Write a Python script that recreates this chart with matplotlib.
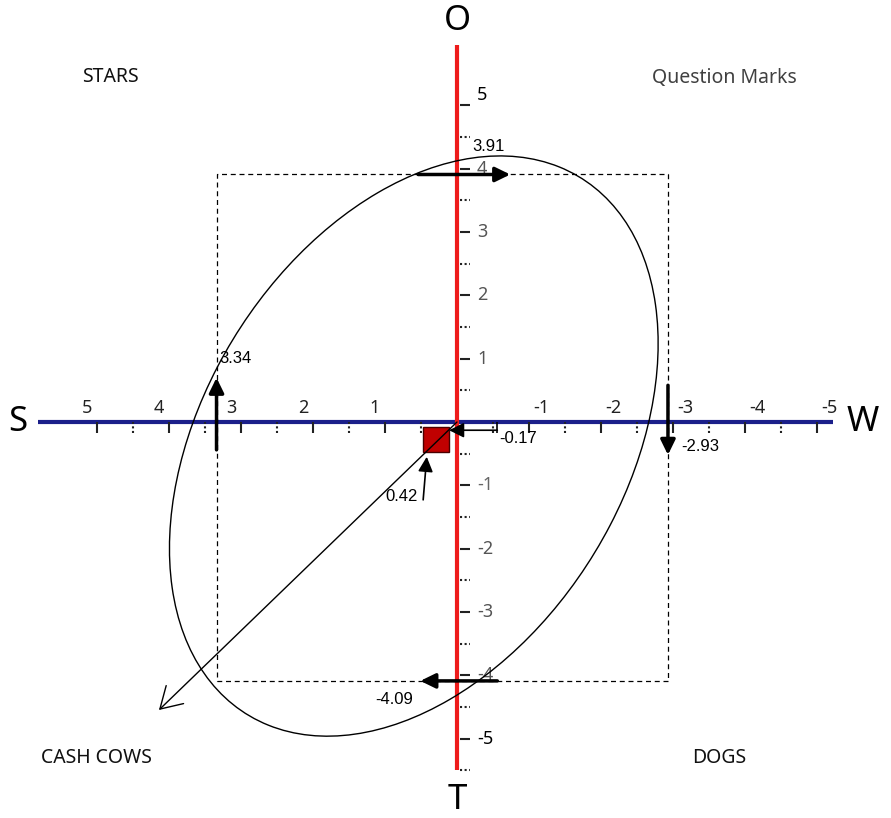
"""
SWOT position chart (S-W horizontal, O-T vertical) with the
strategy quadrants and the score ellipse.
"""

import matplotlib
matplotlib.use("Agg")
from matplotlib import pyplot as plt, patches

# scores
strength = 3.34
weakness = -2.93
opportunity = 3.91
threat = -4.09
sw_score = 0.42
ot_score = -0.17

major_ticks = [-5, -4, -3, -2, -1, 1, 2, 3, 4, 5]
minor_ticks = [-4.5, -3.5, -2.5, -1.5, -0.5, 0.5, 1.5, 2.5, 3.5, 4.5]
y_minor_ticks = minor_ticks + [-5.5]
y_label_colors = {5: "black", 4: "#555555", 3: "#555555", 2: "#555555", 1: "#555555",
                  -1: "#666666", -2: "#555555", -3: "#555555", -4: "#555555", -5: "black"}

quadrant_names = ["STARS", "Question Marks", "CASH COWS", "DOGS"]
axis_names = ["S", "W", "O", "T"]

# ellipse: centre, full width, full height, angle
ellipse_centre = (0.6, -0.38)
ellipse_size = (9.7, 6.0)
ellipse_angle = 114.6

# end of the strategy direction arrow
direction_end = (4.14, -4.55)

# pixel layout of the original drawing
PX_W, PX_H = 891, 818
X0, KX = 457, 72.0
Y0, KY = 422, 63.3


def px(p):
    return p / (100 / 72)   # pixels -> points at dpi 100


def plot_swot():
    plt.rcParams['font.family'] = ['Noto Sans', 'DejaVu Sans']
    fig = plt.figure(figsize=(PX_W / 100, PX_H / 100), dpi=100)
    ax = fig.add_axes([0, 0, 1, 1])
    ax.set_xlim(X0 / KX, (X0 - PX_W) / KX)
    ax.set_ylim((Y0 - PX_H) / KY, Y0 / KY)
    ax.axis('off')

    # main axes
    ax.plot([5.82, -5.22], [0, 0], color='#1b1f8a', lw=3, solid_capstyle='butt', zorder=2)
    ax.plot([0, 0], [5.96, -5.5], color='#ee1c1c', lw=3, solid_capstyle='butt', zorder=3)

    # ticks on the S-W axis (below the line) and on the O-T axis (right of it)
    tick_dx = 11 / KY
    ax.vlines(major_ticks, -tick_dx, 0, color='#222222', lw=1.5, zorder=2)
    ax.vlines(minor_ticks, -tick_dx, 0, color='#222222', lw=1.5, linestyles=(0, (1, 1.2)), zorder=2)
    ax.hlines(major_ticks, -3 / KX, -13 / KX, color='#222222', lw=1.5, zorder=2)
    ax.hlines(y_minor_ticks, -3 / KX, -13 / KX, color='#222222', lw=1.5,
              linestyles=(0, (1, 1.2)), zorder=2)

    for t in major_ticks:
        dx = -10 if t > 0 else 12
        ax.annotate(str(t), (t, 0), xytext=(px(dx), px(14)), textcoords='offset points',
                    ha='center', va='center', fontsize=13, color='#222222')
        dy = 10 if t == 5 else 0
        ax.annotate(str(t), (0, t), xytext=(px(20), px(dy)), textcoords='offset points',
                    ha='left', va='center', fontsize=13, color=y_label_colors[t])

    # S / W / O / T
    big = dict(fontsize=25, ha='center', va='center', color='black')
    ax.text(6.1, 0, axis_names[0], **big)
    ax.text(-5.63, 0, axis_names[1], **big)
    ax.text(0, 6.33, axis_names[2], **big)
    ax.text(0, -5.97, axis_names[3], **big)

    # quadrant names
    q = dict(fontsize=14, ha='left', va='center', transform=ax.transAxes)
    ax.text(82 / PX_W, 1 - 77 / PX_H, quadrant_names[0], color='#111111', **q)
    ax.text(652 / PX_W, 1 - 78 / PX_H, quadrant_names[1], color='#404040', **q)
    ax.text(41 / PX_W, 1 - 758 / PX_H, quadrant_names[2], color='#111111', **q)
    ax.text(692 / PX_W, 1 - 758 / PX_H, quadrant_names[3], color='#111111', **q)

    # dashed box from the four scores
    ax.add_patch(patches.Rectangle((weakness, threat), strength - weakness, opportunity - threat,
                                   fill=False, ec='black', lw=0.9, ls=(0, (4, 3)), zorder=4))

    # ellipse
    ax.add_patch(patches.Ellipse(ellipse_centre, ellipse_size[0], ellipse_size[1],
                                 angle=ellipse_angle, fill=False, ec='black', lw=1.0, zorder=4))

    # thick arrows on each score
    thick = dict(arrowstyle='-|>,head_length=0.45,head_width=0.22', lw=2.5, color='black',
                 mutation_scale=20, shrinkA=0, shrinkB=0)
    ax.annotate('', xy=(-0.74, opportunity), xytext=(0.54, opportunity), arrowprops=thick, zorder=6)
    ax.annotate('', xy=(0.51, threat), xytext=(-0.56, threat), arrowprops=thick, zorder=6)
    ax.annotate('', xy=(strength, 0.7), xytext=(strength, -0.44), arrowprops=thick, zorder=6)
    ax.annotate('', xy=(weakness, -0.52), xytext=(weakness, 0.58), arrowprops=thick, zorder=6)

    # position square and the two small arrows
    ax.add_patch(patches.Rectangle((0.11, -0.47), 0.36, 0.39, fc='#c00000', ec='#4a0000',
                                   lw=1.0, zorder=5))
    thin = dict(arrowstyle='-|>,head_length=0.5,head_width=0.25', lw=1.2, color='black',
                mutation_scale=18, shrinkA=0, shrinkB=0)
    ax.annotate('', xy=(0.11, -0.13), xytext=(-0.56, -0.13), arrowprops=thin, zorder=6)
    ax.vlines([-0.56], -tick_dx, 0, color='black', lw=1.2, zorder=6)
    ax.annotate('', xy=(sw_score, -0.55), xytext=(0.47, -1.23), arrowprops=thin, zorder=6)

    # strategy direction
    ax.annotate('', xy=direction_end, xytext=(0, 0),
                arrowprops=dict(arrowstyle='->,head_length=0.5,head_width=0.3', lw=1.0,
                                color='black', mutation_scale=30, shrinkA=0, shrinkB=0),
                zorder=6)

    # value labels
    v = dict(fontsize=12, family='Liberation Sans', textcoords='offset points', va='center', zorder=7)
    ax.annotate('%.2f' % opportunity, (0, opportunity), xytext=(px(15), px(28)), ha='left', **v)
    ax.annotate('%.2f' % threat, (0, threat), xytext=(px(-44), px(-19)), ha='right', **v)
    ax.annotate('%.2f' % strength, (strength, 0), xytext=(px(3), px(63)), ha='left', **v)
    ax.annotate('%.2f' % weakness, (weakness, 0), xytext=(px(13), px(-25)), ha='left', **v)
    ax.annotate('%.2f' % ot_score, (-0.56, -0.13), xytext=(px(2), px(-8)), ha='left', **v)
    ax.annotate('%.2f' % sw_score, (sw_score, -0.55), xytext=(px(-9), px(-40)), ha='right', **v)

    fig.savefig('out.png', dpi=100, facecolor='white')


if __name__ == "__main__":
    plot_swot()
